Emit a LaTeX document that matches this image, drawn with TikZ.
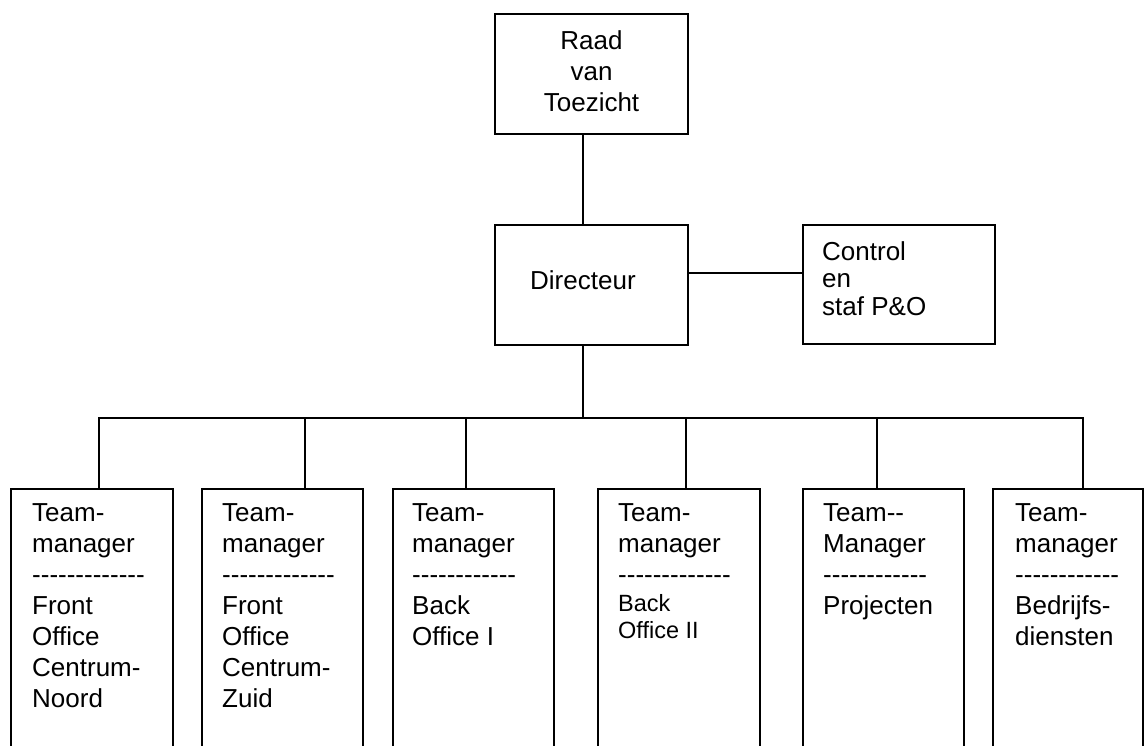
\documentclass[tikz,border=0pt]{standalone}
\usepackage{fontspec}
\setmainfont{Liberation Sans}[Ligatures=TeXOff]
\usetikzlibrary{positioning,calc}
\newcommand{\smalltxt}{\fontsize{23.5}{27}\selectfont}
\tikzset{
  orgbox/.style  ={rectangle, draw=black, line width=2pt, anchor=north west,
                   inner sep=0pt},
  teambox/.style ={orgbox, minimum height=300pt},
  orgtext/.style ={anchor=north west, align=left, inner sep=0pt,
                   font=\fontsize{26}{31}\selectfont},
  link/.style    ={draw=black, line width=2pt},
}

\begin{document}
\begin{tikzpicture}[x=1pt,y=-1pt]
  \clip (0,0) rectangle (1144,746);

  \node[orgbox,minimum width=193pt,minimum height=120pt] (raad) at (494,13) {};
  \node[orgbox,minimum width=193pt,minimum height=120pt] (dir)  at (494,224) {};
  \node[orgbox,minimum width=192pt,minimum height=119pt] (ctrl) at (802,224) {};
  \node[orgtext,anchor=north,align=center] (raadt) at ([yshift=-17pt]raad.north) {Raad\\van\\Toezicht};
  \node[orgtext,anchor=base west] (dirt) at ([xshift=36pt,yshift=-66pt]dir.north west) {Directeur};
  \node[orgtext,font=\fontsize{26}{27.5}\selectfont] (ctrlt) at ([xshift=20pt,yshift=-17.4pt]ctrl.north west) {Control\\en\\staf P\&O};

  \node[teambox,minimum width=162pt] (b1) at (10,488)  {};
  \node[teambox,minimum width=161pt] (b2) at (201,488) {};
  \node[teambox,minimum width=161pt] (b3) at (392,488) {};
  \node[teambox,minimum width=162pt] (b4) at (597,488) {};
  \node[teambox,minimum width=161pt] (b5) at (802,488) {};
  \node[teambox,minimum width=150pt] (b6) at (992,488) {};

  \node[orgtext] (t1) at ([xshift=22pt,yshift=-15.4pt]b1.north west) {Team-\\manager\\-------------\\Front\\Office\\Centrum-\\Noord};
  \node[orgtext] (t2) at ([xshift=21pt,yshift=-15.4pt]b2.north west) {Team-\\manager\\-------------\\Front\\Office\\Centrum-\\Zuid};
  \node[orgtext] (t3) at ([xshift=20pt,yshift=-15.4pt]b3.north west) {Team-\\manager\\------------\\Back\\Office I};
  \node[orgtext] (t4) at ([xshift=21pt,yshift=-15.4pt]b4.north west) {Team-\\manager\\-------------\\[-3pt]{\smalltxt Back}\\[-4pt]{\smalltxt Office II}};
  \node[orgtext] (t5) at ([xshift=21pt,yshift=-15.4pt]b5.north west) {Team--\\Manager\\------------\\Projecten};
  \node[orgtext] (t6) at ([xshift=23pt,yshift=-15.4pt]b6.north west) {Team-\\manager\\------------\\Bedrijfs-\\diensten};

  \coordinate (bus) at ([xshift=-8.5pt,yshift=-72pt]dir.south);
  \draw[link] ([xshift=-8.5pt]raad.south) -- ([xshift=-8.5pt]dir.north);
  \draw[link] ([yshift=12pt]dir.east) -- ([yshift=12pt]dir.east -| ctrl.west);
  \draw[link] ([xshift=-8.5pt]dir.south) -- (bus);
  \foreach \b/\s in {b1/7,b2/22.5,b3/-7.5,b4/7,b5/-6.5,b6/15}{\draw[link] ([xshift=\s pt]\b.north) |- (bus);}
\end{tikzpicture}
\end{document}
